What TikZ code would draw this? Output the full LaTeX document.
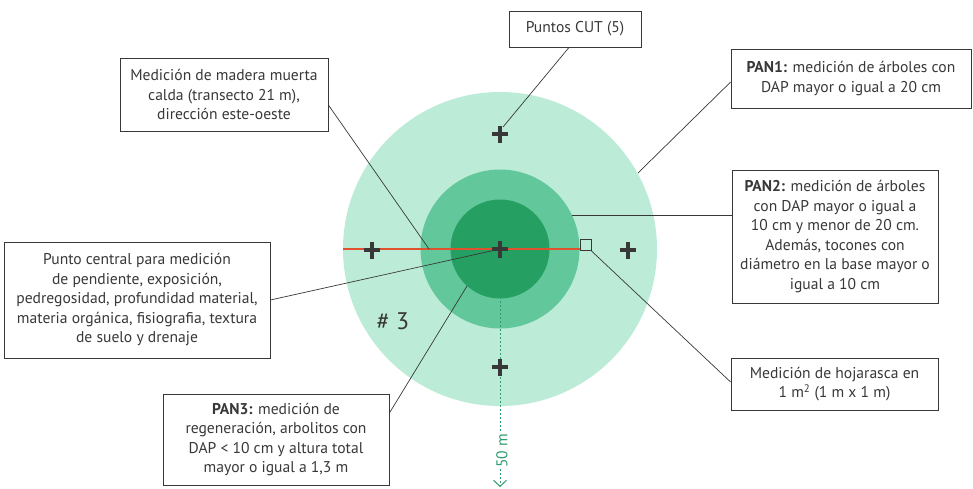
\documentclass[tikz,border=0pt]{standalone}
\usepackage{fontspec}
\setmainfont{PT Sans}
\usetikzlibrary{calc,arrows.meta}

\definecolor{mint}{HTML}{BCEBD7}
\definecolor{midgreen}{HTML}{62C89C}
\definecolor{darkgreen}{HTML}{25A062}
\definecolor{transect}{HTML}{E0522D}
\definecolor{linegray}{HTML}{383838}
\definecolor{dashgreen}{HTML}{2E9E6E}

\tikzset{
  infobox/.style={draw=linegray, line width=0.8pt, fill=white, align=center,
    inner sep=2pt, text=linegray, font=\fontsize{15.6}{19.5}\selectfont},
  callout/.style={draw=linegray, line width=0.7pt},
  crossmark/.style={draw=linegray, line width=3.2pt}
}

\begin{document}
\begin{tikzpicture}[x=1pt, y=-1pt]
\useasboundingbox (0,0) rectangle (973,488);

% Rings of the plot
\coordinate (c) at (500,249);
\fill[mint] (c) circle (157pt);
\fill[midgreen] (c) circle (79.5pt);
\fill[darkgreen] (c) circle (49.5pt);

% Distance line
\coordinate (south) at (500,487);
\draw[dashgreen, dash pattern=on 2pt off 2pt, line width=1pt,
  -{Straight Barb[length=6pt,width=13pt]}] (c) -- (south);
\node[rotate=90, fill=white, text=dashgreen, inner sep=1.5pt,
  font=\fontsize{15.6}{18}\selectfont] (dist) at (502,451) {50 m};

% Transect and litter square
\coordinate (west) at (343,249);
\coordinate (east) at (580,249);
\draw[transect, line width=1.8pt] (west) -- (east);
\node[draw=linegray, line width=0.8pt, minimum size=11pt, inner sep=0pt] (litter) at (585.5,245) {};

% Points
\foreach \p in {(372,250),(628,250),(500,134),(500,367),(500,249)}
  \draw[crossmark] \p ++(-8,0) -- ++(16,0) \p ++(0,-8.5) -- ++(0,17);

\node[text=linegray, font=\fontsize{24}{28}\selectfont] (num) at (393,321) {\# 3};

% Boxes
\node[infobox, minimum width=132pt, minimum height=36pt] (cut) at (575,29) {Puntos CUT (5)};
\node[infobox, minimum width=208pt, minimum height=73pt] (madera) at (224,94.5)
  {Medición de madera muerta\\calda (transecto 21 m),\\dirección este-oeste};
\node[infobox, minimum width=240pt, minimum height=59pt] (pan1) at (851,78.5)
  {\textbf{PAN1:} medición de árboles con\\DAP mayor o igual a 20 cm};
\node[infobox, minimum width=206pt, minimum height=133pt] (pan2) at (835,236.5)
  {\textbf{PAN2:} medición de árboles\\con DAP mayor o igual a\\10 cm y menor de 20 cm.\\Además, tocones con\\diámetro en la base mayor o\\igual a 10 cm};
\node[infobox, minimum width=266pt, minimum height=116pt] (central) at (137,300)
  {Punto central para medición\\de pendiente, exposición,\\pedregosidad, profundidad material,\\materia orgánica, fisiografia, textura\\de suelo y drenaje};
\node[infobox, minimum width=207pt, minimum height=52pt] (hoja) at (834.5,384)
  {Medición de hojarasca en\\1 m\textsuperscript{2} (1 m x 1 m)};
\node[infobox, minimum width=226pt, minimum height=91pt] (pan3) at (276,439.5)
  {\textbf{PAN3:} medición de\\regeneración, arbolitos con\\DAP < 10 cm y altura total\\mayor o igual a 1,3 m};

% Callouts
\coordinate (cutpt) at (503,127);
\coordinate (wood) at (429,249);
\coordinate (ring1) at (638,173);
\coordinate (ring2) at (572,215);
\coordinate (ring3) at (467,286);
\draw[callout] ([xshift=-6pt]cut.south) -- (cutpt);
\draw[callout] ([yshift=-10.5pt]madera.east) -- (wood);
\draw[callout] ([yshift=-3.5pt]pan1.west) -- (ring1);
\draw[callout] (ring2) -- (ring2 -| pan2.west);
\draw[callout] (central.east) -- (c);
\draw[callout] (litter.south east) -- ([yshift=2pt]hoja.west);
\draw[callout] ([yshift=26.5pt]pan3.east) -- (ring3);

\end{tikzpicture}
\end{document}
